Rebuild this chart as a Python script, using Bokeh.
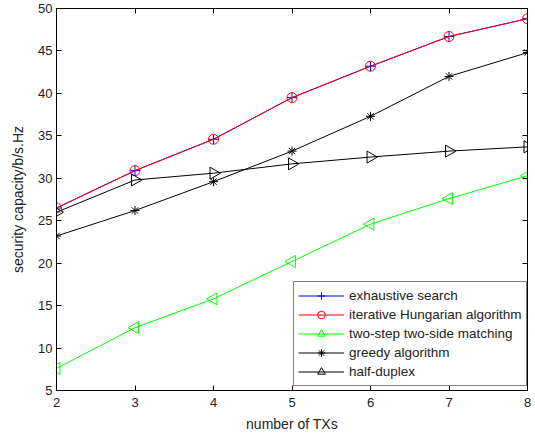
import math
from bokeh.plotting import figure
from bokeh.models import (LinearAxis, FixedTicker, Range1d, Legend, LegendItem,
                          CustomLabelingPolicy)
from bokeh.embed import file_html
from bokeh.resources import INLINE

# ---- data ----
tx = [2, 3, 4, 5, 6, 7, 8]
exhaustive = [26.5, 30.9, 34.6, 39.5, 43.2, 46.7, 48.8]
hungarian = [26.5, 30.9, 34.6, 39.5, 43.2, 46.7, 48.8]
two_step = [7.6, 12.4, 15.8, 20.2, 24.6, 27.6, 30.3]
greedy = [23.2, 26.2, 29.6, 33.2, 37.3, 42.0, 44.8]
half_duplex = [26.0, 29.8, 30.6, 31.7, 32.5, 33.2, 33.7]

series_names = ["exhaustive search", "iterative Hungarian algorithm",
                "two-step two-side matching", "greedy algorithm", "half-duplex"]
x_ticks = [2, 3, 4, 5, 6, 7, 8]
y_ticks = [5, 10, 15, 20, 25, 30, 35, 40, 45, 50]
x_label = "number of TXs"
y_label = "security capacity/b/s.Hz"

FONT = "Liberation Sans"
FS = "13px"
TXT = "#222222"

p = figure(width=534, height=436, output_backend="svg", toolbar_location=None,
           x_range=Range1d(2, 8), y_range=Range1d(5, 50),
           min_border_left=56, min_border_right=7, min_border_top=8, min_border_bottom=46)
p.background_fill_color = "white"
p.border_fill_color = "white"
p.outline_line_color = "black"
p.outline_line_width = 1
p.grid.visible = False

def style_axis(ax, ticks, labels=True):
    ax.ticker = FixedTicker(ticks=ticks)
    ax.major_tick_in = 5
    ax.major_tick_out = 0
    ax.minor_tick_line_color = None
    ax.axis_line_color = "black"
    ax.major_tick_line_color = "black"
    ax.major_label_text_font = FONT
    ax.major_label_text_color = TXT
    if labels:
        ax.major_label_text_font_size = FS
    else:
        ax.major_label_text_font_size = "0px"
        ax.major_label_standoff = 0
        ax.major_label_policy = CustomLabelingPolicy(code="return []")

style_axis(p.xaxis[0], x_ticks)
style_axis(p.yaxis[0], y_ticks)
p.xaxis[0].major_label_standoff = 7
p.yaxis[0].major_label_standoff = 4
for ax, lab, st in ((p.xaxis[0], x_label, 6), (p.yaxis[0], y_label, 9)):
    ax.axis_label = lab
    ax.axis_label_text_font = FONT
    ax.axis_label_text_font_size = "14px"
    ax.axis_label_text_font_style = "normal"
    ax.axis_label_text_color = TXT
    ax.axis_label_standoff = st

top = LinearAxis()
style_axis(top, x_ticks, labels=False)
p.add_layout(top, "above")
right = LinearAxis()
style_axis(right, y_ticks, labels=False)
p.add_layout(right, "right")

items = []
# exhaustive search
l1 = p.line(tx, exhaustive, line_color="#0000ff", line_width=1)
m1 = p.scatter(tx, exhaustive, marker="cross", size=10, line_color="#0000ff", line_width=1)
items.append(LegendItem(label=series_names[0], renderers=[l1, m1]))
# iterative Hungarian
l2 = p.line(tx, hungarian, line_color="#ff0000", line_width=1)
m2 = p.scatter(tx, hungarian, marker="circle", size=10, line_color="#ff0000",
               fill_color=None, line_width=1)
items.append(LegendItem(label=series_names[1], renderers=[l2, m2]))
# two-step
l3 = p.line(tx, two_step, line_color="#00ff00", line_width=1)
m3 = p.scatter(tx, two_step, marker="triangle", angle=math.pi / 2, size=12,
               line_color="#00ff00", fill_color=None, line_width=1)
items.append(LegendItem(label=series_names[2], renderers=[l3, m3]))
# greedy
l4 = p.line(tx, greedy, line_color="black", line_width=1)
m4 = p.scatter(tx, greedy, marker="asterisk", size=9, line_color="black", line_width=1)
items.append(LegendItem(label=series_names[3], renderers=[l4, m4]))
# half-duplex
l5 = p.line(tx, half_duplex, line_color="black", line_width=1)
m5 = p.scatter(tx, half_duplex, marker="triangle", angle=-math.pi / 2, size=12,
               line_color="black", fill_color=None, line_width=1)
items.append(LegendItem(label=series_names[4], renderers=[l5, m5]))

legend = Legend(items=items, location=(237, 4), margin=0, padding=4, spacing=0,
                glyph_height=19, glyph_width=46, label_height=19, label_standoff=5,
                label_text_font=FONT, label_text_font_size="13.5px", label_text_color=TXT,
                border_line_color="black", border_line_width=1,
                background_fill_color="white", background_fill_alpha=1.0)
p.add_layout(legend, "center")

open("out.html", "w").write(file_html(p, INLINE))
